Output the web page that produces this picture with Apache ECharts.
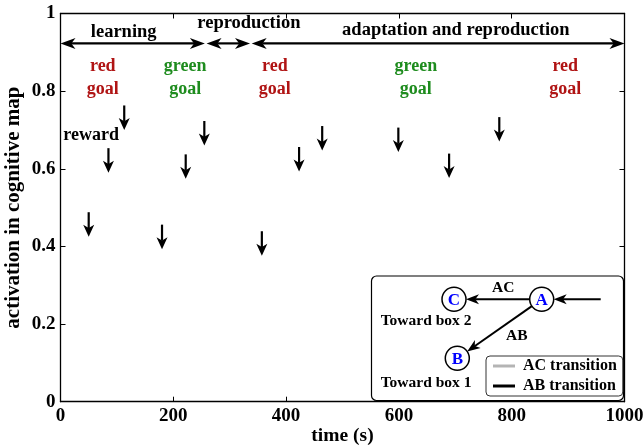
<!DOCTYPE html>
<html><head><meta charset="utf-8">
<script src="https://cdn.jsdelivr.net/npm/echarts@6/dist/echarts.min.js"></script>
<style>html,body{margin:0;padding:0;background:#fff}#c{width:643px;height:446px}</style>
</head><body><div id="c"></div>
<script>
// ---- data ----
const rewardTimes  = [50, 85, 113, 180, 222, 255, 357, 423, 464, 599, 689, 778];
const rewardLevels = [0.425, 0.590, 0.700, 0.393, 0.574, 0.660, 0.376, 0.593, 0.647, 0.643, 0.576, 0.670];
const phaseNames  = ['learning', 'reproduction', 'adaptation and reproduction'];
const phaseStart  = [0, 259, 339];
const phaseEnd    = [256, 336, 1000];
const phaseLabelX = [112, 334, 701];
const phaseLabelY = [0.953, 0.975, 0.956];
const phaseArrowY = 0.923;
const goalNames = ['red', 'green', 'red', 'green', 'red'];
const goalX     = [75, 221, 380, 630, 895];
const goalY     = 0.834;
const rewardLabel = ['reward', 5, 0.687];
const acTransition = [];
const abTransition = [];
const xTicks = [0, 200, 400, 600, 800, 1000];
const yTicks = [0, 0.2, 0.4, 0.6, 0.8, 1];

const FONT = '"Liberation Serif", "DejaVu Serif", serif';
const goalColor = { red: '#b01414', green: '#1e8c1e' };

function head(tx, ty, ux, uy, len, hw) {
  const bx = tx - ux * len, by = ty - uy * len;
  const nx = -uy, ny = ux;
  const mx = tx - ux * len * 0.72, my = ty - uy * len * 0.72;
  return { type: 'polygon', shape: { points: [[tx, ty], [bx + nx * hw, by + ny * hw], [mx, my], [bx - nx * hw, by - ny * hw]] }, style: { fill: '#000' } };
}
function arrow(x1, y1, x2, y2, len, hw, both, lw) {
  const dx = x2 - x1, dy = y2 - y1, L = Math.hypot(dx, dy);
  const ux = dx / L, uy = dy / L;
  const ch = [{ type: 'line', shape: { x1: x1 + (both ? ux * len * 0.7 : 0), y1: y1 + (both ? uy * len * 0.7 : 0), x2: x2 - ux * len * 0.7, y2: y2 - uy * len * 0.7 }, style: { stroke: '#000', lineWidth: lw || 2 } }];
  ch.push(head(x2, y2, ux, uy, len, hw));
  if (both) ch.push(head(x1, y1, -ux, -uy, len, hw));
  return ch;
}

const chart = echarts.init(document.getElementById('c'), null, { renderer: 'canvas' });

const axisCommon = {
  type: 'value',
  axisLine: { show: true, onZero: false, lineStyle: { color: '#000', width: 1.3 } },
  axisTick: { show: true, inside: true, length: 5, lineStyle: { color: '#000', width: 1 } },
  splitLine: { show: false }
};

const labelData = []
  .concat(phaseNames.map((t, i) => [phaseLabelX[i], phaseLabelY[i], t, '#000', 'center', 18.5]))
  .concat(goalNames.map((g, i) => [goalX[i], goalY, g + '\ngoal', goalColor[g], 'center', 18]))
  .concat([[rewardLabel[1], rewardLabel[2], rewardLabel[0], '#000', 'left', 18]]);

// inset diagram geometry (pixels)
const A = [541.7, 299.3], B = [457.3, 358.3], C = [454, 299.3], R = 12;
const abU = (() => { const dx = B[0] - A[0], dy = B[1] - A[1], L = Math.hypot(dx, dy); return [dx / L, dy / L]; })();
const insetText = (t, x, y, align, color, size) => ({ type: 'text', z: 11, style: { text: t, x: x, y: y, align: align, verticalAlign: 'middle', fill: color, font: 'bold ' + size + 'px ' + FONT } });
const circle = (p, letter) => [
  { type: 'circle', z: 11, shape: { cx: p[0], cy: p[1], r: R }, style: { fill: '#fff', stroke: '#000', lineWidth: 1.5 } },
  insetText(letter, p[0], p[1] + 1, 'center', '#0000ff', 17)
];
const z11 = e => Object.assign(e, { z: 11 });
const insetChildren = [
  { type: 'rect', z: 10, shape: { x: 371.5, y: 276, width: 252, height: 124.5, r: 5 }, style: { fill: '#fff', stroke: '#000', lineWidth: 1.2 } }
]
  .concat(arrow(600.7, A[1], A[0] + R, A[1], 13, 5, false).map(z11))
  .concat(arrow(A[0] - R, A[1], C[0] + R, C[1], 13, 5, false).map(z11))
  .concat(arrow(A[0] + abU[0] * R, A[1] + abU[1] * R, B[0] - abU[0] * R, B[1] - abU[1] * R, 13, 5, false).map(z11))
  .concat(circle(A, 'A')).concat(circle(B, 'B')).concat(circle(C, 'C'))
  .concat([
    insetText('AC', 503.3, 287.5, 'center', '#000', 15.5),
    insetText('AB', 516.7, 335.7, 'center', '#000', 15.5),
    insetText('Toward box 2', 380.7, 321, 'left', '#000', 15.5),
    insetText('Toward box 1', 380.7, 382.7, 'left', '#000', 15.5)
  ]);

chart.setOption({
  animation: false,
  backgroundColor: '#fff',
  grid: { left: 60.5, right: 18.5, top: 13.5, bottom: 44.3, containLabel: false, outerBoundsMode: 'none' },
  xAxis: [
    Object.assign({}, axisCommon, {
      min: xTicks[0], max: xTicks[xTicks.length - 1], interval: xTicks[1] - xTicks[0],
      name: 'time (s)', nameLocation: 'middle', nameGap: 24, nameMoveOverlap: false,
      nameTextStyle: { color: '#000', fontFamily: FONT, fontWeight: 'bold', fontSize: 19.5 },
      axisLabel: { color: '#000', fontFamily: FONT, fontWeight: 'bold', fontSize: 19, margin: 5, formatter: v => String(v) }
    }),
    Object.assign({}, axisCommon, {
      position: 'top', min: xTicks[0], max: xTicks[xTicks.length - 1], interval: xTicks[1] - xTicks[0],
      axisLabel: { show: false }
    })
  ],
  yAxis: [
    Object.assign({}, axisCommon, {
      min: yTicks[0], max: yTicks[yTicks.length - 1], interval: 0.2,
      name: 'activation in cognitive map', nameLocation: 'middle', nameGap: 36, nameMoveOverlap: false,
      nameTextStyle: { color: '#000', fontFamily: FONT, fontWeight: 'bold', fontSize: 21 },
      axisLabel: { color: '#000', fontFamily: FONT, fontWeight: 'bold', fontSize: 19, margin: 5,
        formatter: v => (v === 0 || v === 1) ? String(v) : v.toFixed(1) }
    }),
    Object.assign({}, axisCommon, {
      position: 'right', min: yTicks[0], max: yTicks[yTicks.length - 1], interval: 0.2,
      axisLabel: { show: false }
    })
  ],
  legend: {
    left: 486, top: 356, orient: 'vertical', z: 20,
    data: ['AC transition', 'AB transition'],
    icon: 'rect', itemWidth: 22, itemHeight: 3, itemGap: 4,
    padding: [2, 6, 2, 7], selectedMode: false,
    backgroundColor: '#fff', borderColor: '#333', borderWidth: 1, borderRadius: 4,
    textStyle: { color: '#000', fontFamily: FONT, fontWeight: 'bold', fontSize: 16, padding: [0, 0, 0, 3] }
  },
  graphic: [{ type: 'group', children: insetChildren }],
  series: [
    { name: 'AC transition', type: 'line', data: acTransition, color: '#b4b4b4', lineStyle: { width: 3 }, showSymbol: false },
    { name: 'AB transition', type: 'line', data: abTransition, color: '#000', lineStyle: { width: 3 }, showSymbol: false },
    {
      type: 'custom', name: 'rewards', silent: true,
      data: rewardTimes.map((t, i) => [t, rewardLevels[i]]),
      renderItem: (params, api) => {
        const p = api.coord([api.value(0), api.value(1)]);
        return { type: 'group', children: arrow(p[0], p[1] - 24.5, p[0], p[1], 12, 5.5, false, 2.2) };
      }
    },
    {
      type: 'custom', name: 'phases', silent: true,
      data: phaseStart.map((s, i) => [s, phaseEnd[i], phaseArrowY]),
      renderItem: (params, api) => {
        const a = api.coord([api.value(0), api.value(2)]);
        const b = api.coord([api.value(1), api.value(2)]);
        return { type: 'group', children: arrow(a[0], a[1], b[0], b[1], 15, 5.5, true, 2.2) };
      }
    },
    {
      type: 'custom', name: 'labels', silent: true,
      data: labelData.map(d => [d[0], d[1]]),
      renderItem: (params, api) => {
        const d = labelData[params.dataIndex];
        const p = api.coord([d[0], d[1]]);
        return { type: 'text', style: { text: d[2], x: p[0], y: p[1], align: d[4], verticalAlign: 'middle',
          fill: d[3], font: 'bold ' + d[5] + 'px ' + FONT, lineHeight: 22.5 } };
      }
    }
  ]
});
</script></body></html>
